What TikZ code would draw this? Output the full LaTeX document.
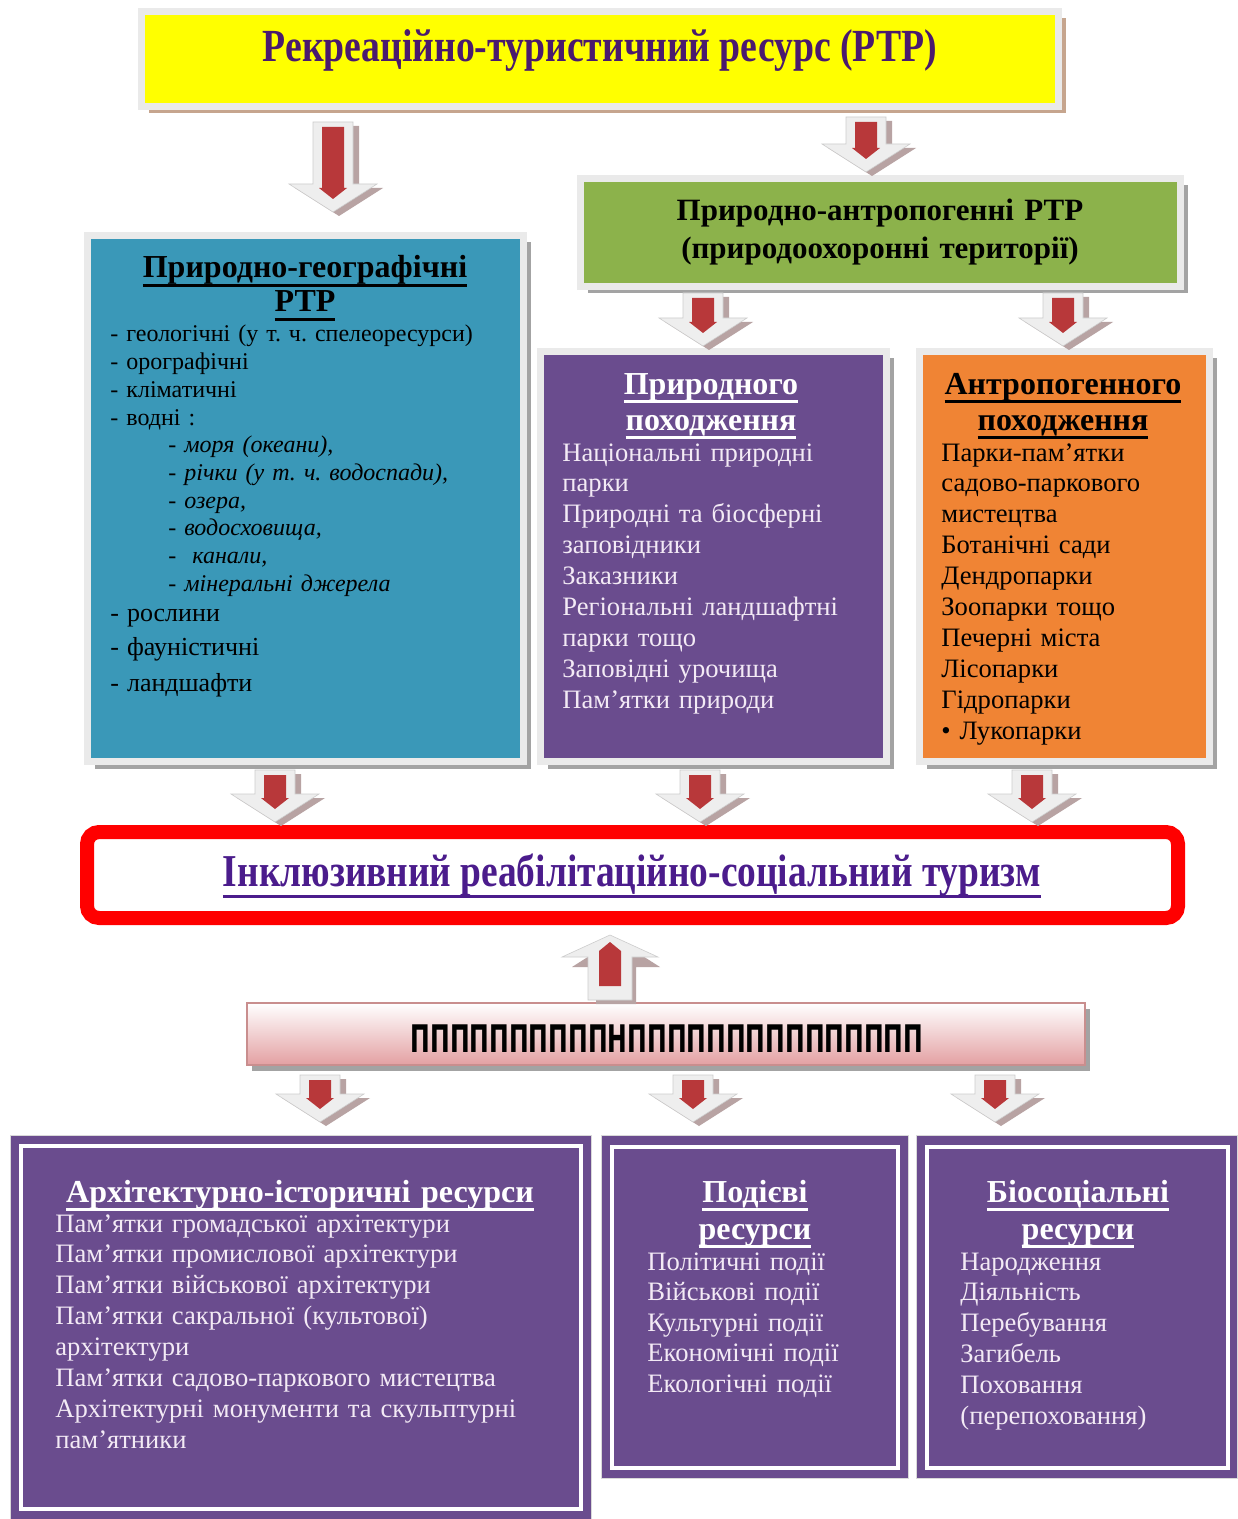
\documentclass[tikz,border=0pt]{standalone}
\usepackage{fontspec}
\setmainfont{Liberation Serif}
\newfontfamily\condf{Liberation Serif}[FakeStretch=0.82]
\newfontfamily\boxf{DejaVu Sans}[FakeStretch=0.62]
\usetikzlibrary{calc,shadows}
\definecolor{ttl}{HTML}{4A1A6E}
\definecolor{yel}{HTML}{FFFF00}
\definecolor{grn}{HTML}{8CB24B}
\definecolor{blu}{HTML}{3A98B8}
\definecolor{pur}{HTML}{6A4C8E}
\definecolor{orn}{HTML}{F08434}
\definecolor{framec}{HTML}{EAEAEA}
\definecolor{shd}{HTML}{A3A3A3}
\definecolor{shdtan}{HTML}{C6A58E}
\definecolor{arrred}{HTML}{B8383A}
\definecolor{arrlight}{HTML}{EEEEEE}
\definecolor{arrshd}{HTML}{B8A3A3}
\definecolor{lav}{HTML}{F3EAF5}
\definecolor{inkl}{HTML}{4B1C8C}
\definecolor{pinkb}{HTML}{E3A0A2}
\definecolor{pinkedge}{HTML}{C98E8E}
\frenchspacing
\newcommand\ulx[1]{\setbox0=\hbox{#1}\leavevmode\rlap{\rule[-0.27em]{\wd0}{0.08em}}\box0}
\newcommand\fsz[2]{\fontsize{#1}{#2}\selectfont}
\newcommand\arrdown[2]{%
  \fill[arrshd] let \p1=(#1),\p2=(#2) in
    (\x1-7pt,\y1-2pt) -- (\x1+13pt,\y1-2pt) -- (\x1+13pt,\y2+12pt) -- (\x1+25pt,\y2+12pt)
    -- (\x1+3pt,\y2-2pt) -- (\x1-19pt,\y2+12pt) -- (\x1-7pt,\y2+12pt) -- cycle;
  \filldraw[fill=arrlight,draw=black!20,line width=0.3pt] let \p1=(#1),\p2=(#2) in
    (\x1-10pt,\y1) -- (\x1+10pt,\y1) -- (\x1+10pt,\y2+14pt) -- (\x1+22pt,\y2+14pt)
    -- (\x1,\y2) -- (\x1-22pt,\y2+14pt) -- (\x1-10pt,\y2+14pt) -- cycle;
  \fill[arrred] let \p1=(#1),\p2=(#2) in
    (\x1-5.5pt,\y1-2.5pt) -- (\x1+5.5pt,\y1-2.5pt) -- (\x1+5.5pt,\y2+12pt) -- (\x1+7pt,\y2+12pt)
    -- (\x1,\y2+6.5pt) -- (\x1-7pt,\y2+12pt) -- (\x1-5.5pt,\y2+12pt) -- cycle;
}
\newcommand\arrup[2]{%
  \fill[arrshd] let \p1=(#1),\p2=(#2) in
    (\x1-7pt,\y1-2pt) -- (\x1+13pt,\y1-2pt) -- (\x1+13pt,\y2-16pt) -- (\x1+25pt,\y2-16pt)
    -- (\x1+3pt,\y2-2pt) -- (\x1-19pt,\y2-16pt) -- (\x1-7pt,\y2-16pt) -- cycle;
  \filldraw[fill=arrlight,draw=black!20,line width=0.3pt] let \p1=(#1),\p2=(#2) in
    (\x1-11pt,\y1) -- (\x1+11pt,\y1) -- (\x1+11pt,\y2-11pt) -- (\x1+24pt,\y2-11pt)
    -- (\x1,\y2) -- (\x1-24pt,\y2-11pt) -- (\x1-11pt,\y2-11pt) -- cycle;
  \fill[arrred] let \p1=(#1),\p2=(#2) in
    (\x1-5.5pt,\y1+7pt) -- (\x1+5.5pt,\y1+7pt) -- (\x1+5.5pt,\y2-8pt)
    -- (\x1,\y2-3.5pt) -- (\x1-5.5pt,\y2-8pt) -- cycle;
}
\begin{document}
\begin{tikzpicture}[x=0.5pt,y=-0.5pt,
  cbox/.style={draw=framec,line width=3.5pt,inner sep=0pt,
    drop shadow={shadow xshift=3.5pt,shadow yshift=-3.5pt,fill=shd,opacity=1}},
  tbox/.style={draw=framec,line width=3.5pt,inner sep=0pt,
    drop shadow={shadow xshift=3.5pt,shadow yshift=-3.5pt,fill=shdtan,opacity=1}},
  pbox/.style={fill=pur,draw=black!15,line width=0.4pt,inner sep=0pt},
  pin/.style={draw=white,line width=1.6pt,inner sep=0pt},
  ttxt/.style={inner sep=0pt,anchor=base,align=center},
  ltxt/.style={inner sep=0pt,anchor=base west,align=left}]
\useasboundingbox (0,0) rectangle (1237,1519);
\fill[white] (0,0) rectangle (1237,1519);

% ---- boxes ----
\node[tbox,fill=yel,minimum width=458.5pt,minimum height=47.5pt] (top) at (600,59) {};
\node[cbox,fill=grn,minimum width=300pt,minimum height=54pt] (green) at (880.5,232.5) {};
\node[cbox,fill=blu,minimum width=218pt,minimum height=263pt] (blue) at (305.5,498.5) {};
\node[cbox,fill=pur,minimum width=173pt,minimum height=205pt] (nat) at (713.5,556.5) {};
\node[cbox,fill=orn,minimum width=145pt,minimum height=205pt] (ant) at (1064.5,556.5) {};
\node[draw=red,line width=7pt,rounded corners=6pt,fill=white,inner sep=0pt,
      minimum width=545.5pt,minimum height=43pt] (incl) at (632.5,875) {};
\node[draw=pinkedge,line width=0.8pt,top color=white,bottom color=pinkb,inner sep=0pt,
      minimum width=419pt,minimum height=31pt,
      drop shadow={shadow xshift=2.5pt,shadow yshift=-3pt,fill=shd,opacity=1}] (pink) at (666,1034) {};
\node[pbox,minimum width=290.5pt,minimum height=192pt] (arch) at (300.5,1327) {};
\node[pin,minimum width=280pt,minimum height=181.5pt] (archin) at (301,1327.5) {};
\node[pbox,minimum width=153.5pt,minimum height=171.5pt] (ev) at (754.5,1306.5) {};
\node[pin,minimum width=143pt,minimum height=160.5pt] (evin) at (755,1307.5) {};
\node[pbox,minimum width=160.5pt,minimum height=171.5pt] (bio) at (1076.5,1306.5) {};
\node[pin,minimum width=150.5pt,minimum height=160.5pt] (bioin) at (1077.5,1307.5) {};

% ---- arrows ----
\coordinate (a1s) at (333,122);  \coordinate (a1e) at (333,212);
\coordinate (a2s) at (866,117);  \coordinate (a2e) at (866,172);
\coordinate (a3s) at (703,293);  \coordinate (a3e) at (703,346);
\coordinate (a4s) at (1063,293); \coordinate (a4e) at (1063,346);
\coordinate (a5s) at (275,770);  \coordinate (a5e) at (275,822);
\coordinate (a6s) at (700,770);  \coordinate (a6e) at (700,822);
\coordinate (a7s) at (1032,770); \coordinate (a7e) at (1032,822);
\coordinate (a8s) at (610,1000); \coordinate (a8e) at (610,935);
\coordinate (a9s) at (320,1075); \coordinate (a9e) at (320,1122);
\coordinate (a10s) at (693,1075); \coordinate (a10e) at (693,1122);
\coordinate (a11s) at (995,1075); \coordinate (a11e) at (995,1122);
\arrdown{a1s}{a1e}
\arrdown{a2s}{a2e}
\arrdown{a3s}{a3e}
\arrdown{a4s}{a4e}
\arrdown{a5s}{a5e}
\arrdown{a6s}{a6e}
\arrdown{a7s}{a7e}
\arrup{a8s}{a8e}
\arrdown{a9s}{a9e}
\arrdown{a10s}{a10e}
\arrdown{a11s}{a11e}

% ---- texts ----
\node[ttxt,text=ttl,font=\condf\bfseries\fsz{23}{26}] (toptxt) at (600,62)
  {Рекреаційно-туристичний ресурс (РТР)};
\node[ttxt,text width=295pt,font=\bfseries\fsz{15.5}{19}] (greentxt) at (880,221)
  {Природно-антропогенні РТР\\(природоохоронні території)};

\node[ttxt,text width=212pt,font=\bfseries\fsz{16}{17}] (bluettl) at (305,278)
  {\ulx{Природно-географічні}\\\ulx{РТР}};
\node[ltxt,text width=210pt,font=\fsz{12}{13.85}] (bluetxt) at (110,342)
  {- геологічні (у т. ч. спелеоресурси)\\
   - орографічні\\
   - кліматичні\\
   - водні :\\
   \hspace*{29pt}- \textit{моря (океани),}\\
   \hspace*{29pt}- \textit{річки (у т. ч. водоспади),}\\
   \hspace*{29pt}- \textit{озера,}\\
   \hspace*{29pt}- \textit{водосховища,}\\
   \hspace*{29pt}- \ \textit{канали,}\\
   \hspace*{29pt}- \textit{мінеральні джерела}\\[1.2pt]
   {\fsz{13}{13.85}- рослини}\\[3.2pt]
   {\fsz{13}{13.85}- фауністичні}\\[4.2pt]
   {\fsz{13}{13.85}- ландшафти}};

\node[ttxt,text width=170pt,text=white,font=\bfseries\fsz{16}{18}] (natttl) at (711,394)
  {\ulx{Природного}\\\ulx{походження}};
\node[ltxt,text width=165pt,text=lav,font=\fsz{13.3}{15.45}] (nattxt) at (562,461)
  {Національні природні\\парки\\Природні та біосферні\\заповідники\\Заказники\\
   Регіональні ландшафтні\\парки тощо\\Заповідні урочища\\Пам’ятки природи};

\node[ttxt,text width=142pt,font=\bfseries\fsz{16}{18}] (antttl) at (1063,394)
  {\ulx{Антропогенного}\\\ulx{походження}};
\node[ltxt,text width=135pt,font=\fsz{13.3}{15.45}] (anttxt) at (941,461)
  {Парки-пам’ятки\\садово-паркового\\мистецтва\\Ботанічні сади\\Дендропарки\\
   Зоопарки тощо\\Печерні міста\\Лісопарки\\Гідропарки\\• Лукопарки};

\node[ttxt,text=inkl,font=\condf\bfseries\fsz{22.8}{26}] (incltxt) at (632,886)
  {\ulx{Інклюзивний реабілітаційно-соціальний туризм}};

\node[ttxt,font=\boxf\bfseries\fsz{19}{22}] (pinktxt) at (667,1052)
  {ППППППППППНППППППППППППППП};

\node[ttxt,text width=275pt,text=white,font=\bfseries\fsz{16}{18}] (archttl) at (300,1202)
  {\ulx{Архітектурно-історичні ресурси}};
\node[ltxt,text width=265pt,text=lav,font=\fsz{13.3}{15.45}] (archtxt) at (55,1232)
  {Пам’ятки громадської архітектури\\Пам’ятки промислової архітектури\\
   Пам’ятки військової архітектури\\Пам’ятки сакральної (культової)\\архітектури\\
   Пам’ятки садово-паркового мистецтва\\Архітектурні монументи та скульптурні\\пам’ятники};

\node[ttxt,text width=135pt,text=white,font=\bfseries\fsz{16}{18.5}] (evttl) at (755,1202)
  {\ulx{Подієві}\\\ulx{ресурси}};
\node[ltxt,text width=125pt,text=lav,font=\fsz{13.3}{15.25}] (evtxt) at (647,1270)
  {Політичні події\\Військові події\\Культурні події\\Економічні події\\Екологічні події};

\node[ttxt,text width=145pt,text=white,font=\bfseries\fsz{16}{18.5}] (biottl) at (1078,1202)
  {\ulx{Біосоціальні}\\\ulx{ресурси}};
\node[ltxt,text width=130pt,text=lav,font=\fsz{13.3}{15.4}] (biotxt) at (960,1270)
  {Народження\\Діяльність\\Перебування\\Загибель\\Поховання\\(перепоховання)};
\end{tikzpicture}
\end{document}
